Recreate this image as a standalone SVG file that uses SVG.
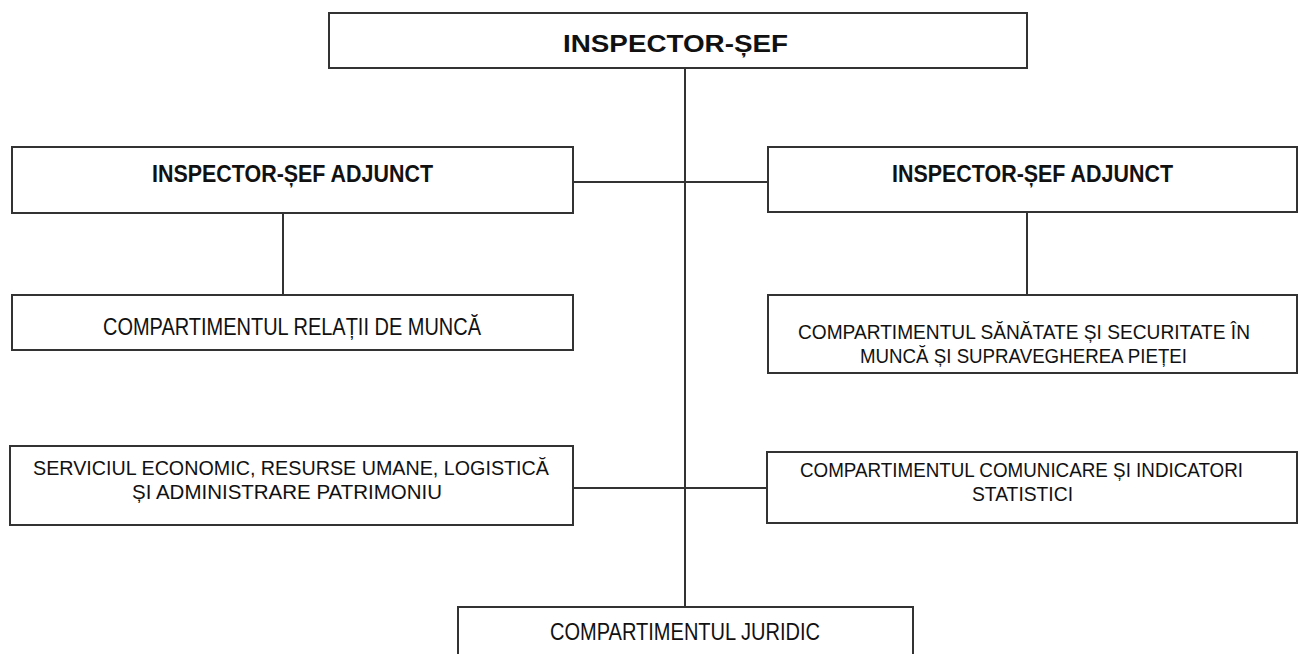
<svg xmlns="http://www.w3.org/2000/svg" width="1299" height="654" viewBox="0 0 1299 654">
<style>
.box{fill:#fff;stroke:#333;stroke-width:2}
.ln{stroke:#333;stroke-width:2;fill:none}
.t{font-family:"Liberation Sans",Arial,sans-serif;font-size:23px;fill:#111}
.m{font-size:21px}
.b{font-weight:bold}
</style>
<rect width="1299" height="654" fill="#fff"/>
<g id="connectors">
<line class="ln" x1="685" y1="68" x2="685" y2="607"/>
<line class="ln" x1="573" y1="182" x2="768" y2="182"/>
<line class="ln" x1="283" y1="213" x2="283" y2="295"/>
<line class="ln" x1="1027" y1="212" x2="1027" y2="295"/>
<line class="ln" x1="573" y1="488" x2="767" y2="488"/>
</g>
<g id="inspector-sef">
<rect class="box" x="329" y="13" width="698" height="55"/>
<text class="t b" x="563" y="52" font-size="33" textLength="225" lengthAdjust="spacingAndGlyphs">INSPECTOR-ȘEF</text>
</g>
<g id="adjunct-left">
<rect class="box" x="12" y="147" width="561" height="66"/>
<text class="t b" x="152" y="182" textLength="281" lengthAdjust="spacingAndGlyphs">INSPECTOR-ȘEF ADJUNCT</text>
</g>
<g id="adjunct-right">
<rect class="box" x="768" y="147" width="529" height="65"/>
<text class="t b" x="892" y="182" textLength="281" lengthAdjust="spacingAndGlyphs">INSPECTOR-ȘEF ADJUNCT</text>
</g>
<g id="relatii-munca">
<rect class="box" x="12" y="295" width="561" height="55"/>
<text class="t" x="103" y="335" textLength="378" lengthAdjust="spacingAndGlyphs">COMPARTIMENTUL RELAȚII DE MUNCĂ</text>
</g>
<g id="sanatate">
<rect class="box" x="768" y="295" width="529" height="78"/>
<text class="t m" x="798" y="339" textLength="452" lengthAdjust="spacingAndGlyphs">COMPARTIMENTUL SĂNĂTATE ȘI SECURITATE ÎN</text>
<text class="t m" x="860" y="363" textLength="327" lengthAdjust="spacingAndGlyphs">MUNCĂ ȘI SUPRAVEGHEREA PIEȚEI</text>
</g>
<g id="serviciul-economic">
<rect class="box" x="10" y="446" width="563" height="79"/>
<text class="t m" x="33" y="475" textLength="516" lengthAdjust="spacingAndGlyphs">SERVICIUL ECONOMIC, RESURSE UMANE, LOGISTICĂ</text>
<text class="t m" x="132" y="499" textLength="310" lengthAdjust="spacingAndGlyphs">ȘI ADMINISTRARE PATRIMONIU</text>
</g>
<g id="comunicare">
<rect class="box" x="767" y="452" width="530" height="71"/>
<text class="t m" x="800" y="477" textLength="443" lengthAdjust="spacingAndGlyphs">COMPARTIMENTUL COMUNICARE ȘI INDICATORI</text>
<text class="t m" x="972" y="501" textLength="101" lengthAdjust="spacingAndGlyphs">STATISTICI</text>
</g>
<g id="juridic">
<rect class="box" x="458" y="607" width="455" height="60"/>
<text class="t" x="550" y="640" textLength="270" lengthAdjust="spacingAndGlyphs">COMPARTIMENTUL JURIDIC</text>
</g>
</svg>
